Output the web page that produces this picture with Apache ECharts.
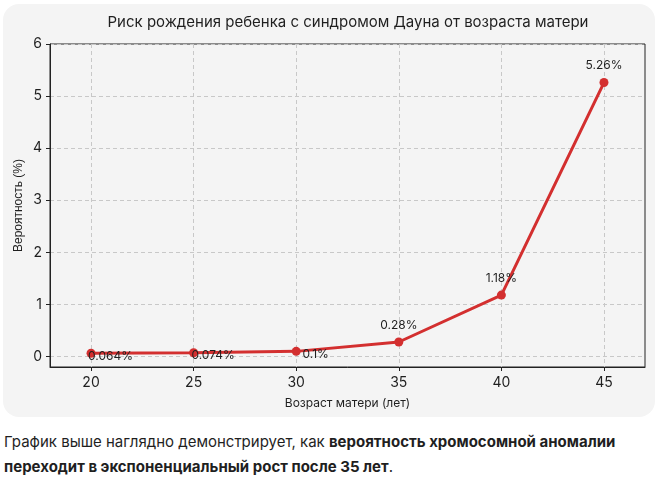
<!DOCTYPE html>
<html><head><meta charset="utf-8">
<script src="https://cdn.jsdelivr.net/npm/echarts@6/dist/echarts.min.js"></script>
<style>
html,body{margin:0;padding:0;background:#fff;width:660px;height:481px;overflow:hidden;}
#panel{position:absolute;left:3px;top:4px;width:652px;height:413px;border-radius:16px;background:#f4f4f4;}
#chart{position:absolute;left:0;top:0;width:660px;height:420px;}
#txt{position:absolute;left:4px;top:429px;width:656px;font-family:Inter,"Open Sans",sans-serif;font-size:15px;line-height:25px;color:#1f1f1f;}
</style></head>
<body>
<div id="panel"></div>
<div id="chart"></div>
<div id="txt">График выше наглядно демонстрирует, как <b>вероятность хромосомной аномалии переходит в экспоненциальный рост после 35 лет</b>.</div>
<script>
const ages = [20, 25, 30, 35, 40, 45];
const risk = [0.064, 0.074, 0.1, 0.28, 1.18, 5.26];
const labels = ['0.064%', '0.074%', '0.1%', '0.28%', '1.18%', '5.26%'];
const xTicks = [20, 25, 30, 35, 40, 45];
const yTicks = [0, 1, 2, 3, 4, 5, 6];

const chart = echarts.init(document.getElementById('chart'));
const FONT = 'Inter, "Open Sans", sans-serif';
const data = ages.map((a, i) => ({
  value: [a, risk[i]],
  label: {
    formatter: labels[i],
    position: 'inside',
    offset: risk[i] < 0.2 ? [19.5, 3] : [0, -17]
  }
}));
chart.setOption({
  animation: false,
  title: {
    text: 'Риск рождения ребенка с синдромом Дауна от возраста матери',
    left: 343, top: 10, textAlign: 'center',
    textStyle: {fontFamily: FONT, fontSize: 15, fontWeight: 'normal', color: '#1f1f1f'}
  },
  grid: {left: 50, top: 44, right: 15, height: 323, show: true, borderColor: '#222', borderWidth: 1, backgroundColor: 'transparent'},
  xAxis: {
    type: 'value', min: 18, max: 47,
    name: 'Возраст матери (лет)', nameLocation: 'middle', nameGap: 30, nameMoveOverlap: false,
    nameTextStyle: {fontFamily: FONT, fontSize: 12, color: '#1f1f1f'},
    axisLine: {show: true, onZero: false, lineStyle: {color: '#222', width: 1}},
    axisTick: {show: true, length: 4, customValues: xTicks, lineStyle: {color: '#222'}},
    axisLabel: {customValues: xTicks, fontFamily: FONT, fontSize: 14, color: '#1f1f1f', margin: 9},
    splitLine: {show: true, lineStyle: {color: '#c8c8c8', type: [4, 3], width: 1}}
  },
  yAxis: {
    type: 'value', min: -0.2, max: 6,
    name: 'Вероятность (%)', nameLocation: 'middle', nameGap: 25, nameRotate: 90, nameMoveOverlap: false,
    nameTextStyle: {fontFamily: '"Liberation Sans", Arial, sans-serif', fontSize: 12, color: '#1f1f1f'},
    axisLine: {show: true, onZero: false, lineStyle: {color: '#222', width: 1}},
    axisTick: {show: true, length: 4, customValues: yTicks, lineStyle: {color: '#222'}},
    axisLabel: {customValues: yTicks, fontFamily: FONT, fontSize: 14, color: '#1f1f1f', margin: 8},
    splitLine: {show: true, lineStyle: {color: '#c8c8c8', type: [4, 3], width: 1}}
  },
  series: [{
    type: 'line',
    data: data,
    symbol: 'circle', symbolSize: 9,
    lineStyle: {color: '#d32f2f', width: 3},
    itemStyle: {color: '#d32f2f'},
    label: {show: true, fontFamily: FONT, fontSize: 12, color: '#1f1f1f'}
  }]
});
</script>
</body></html>
